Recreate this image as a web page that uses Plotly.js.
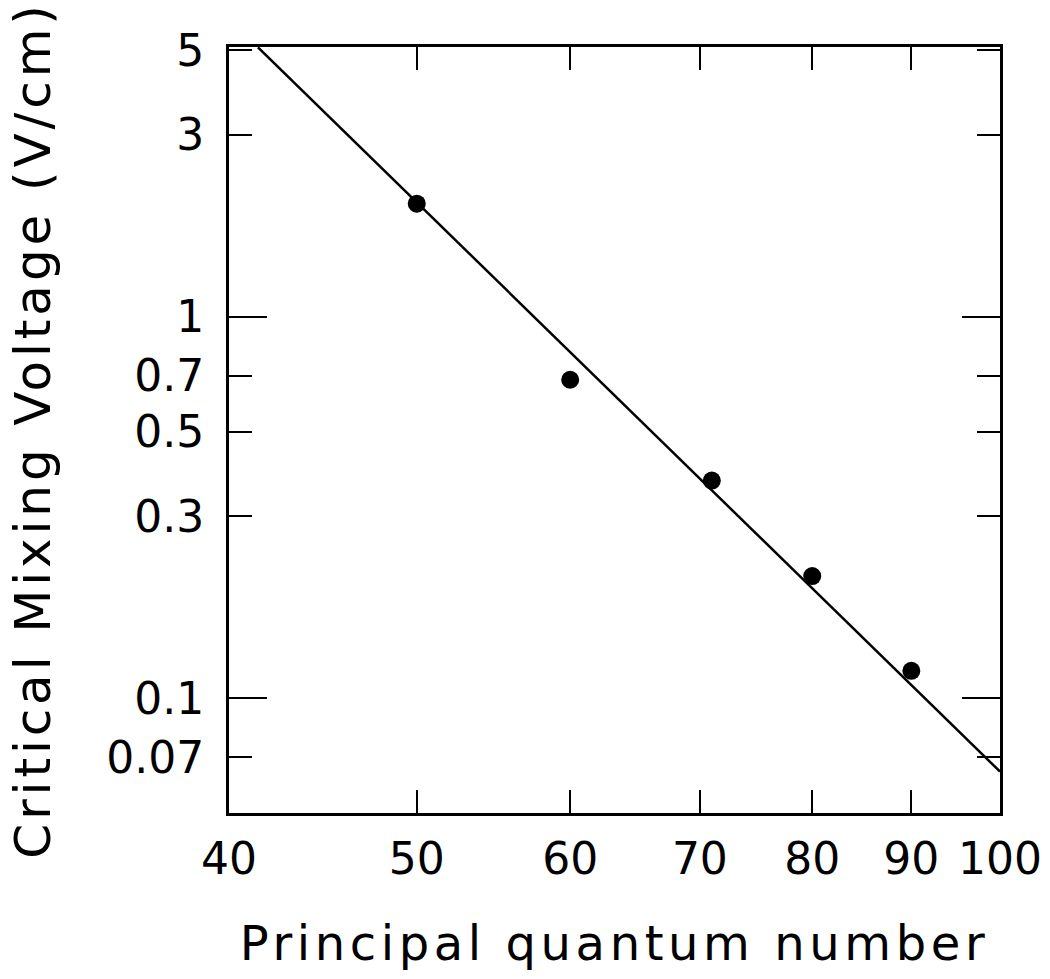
<!DOCTYPE html>
<html>
<head>
<meta charset="utf-8">
<script src="https://cdn.plot.ly/plotly-3.0.1.min.js"></script>
<style>
  html, body { margin: 0; padding: 0; background: #fff; }
  .xtitle { letter-spacing: 4.6px; }
  .ytitle { letter-spacing: 3.9px; }
</style>
</head>
<body>
<div id="chart" style="width:1050px;height:979px;"></div>
<script>
// Measured data points
const quantumN = [50, 60, 71, 80, 90];
const mixingVoltage = [1.98, 0.684, 0.372, 0.209, 0.118];

// Fitted line (endpoints)
const fitN = [41.4, 100];
const fitV = [5.09, 0.0642];

// Axis ticks
const xTickVals = [40, 50, 60, 70, 80, 90, 100];
const xTickText = ['40', '50', '60', '70', '80', '90', '100'];
const yTickVals = [5, 3, 1, 0.7, 0.5, 0.3, 0.1, 0.07];
const yTickText = ['5', '3', '1', '0.7', '0.5', '0.3', '0.1', '0.07'];
const yMajorVals = [1, 0.1];

const yRange = [Math.log10(0.05), Math.log10(5.1)];
const xRange = [Math.log10(40), Math.log10(100)];

const traces = [
  {
    x: fitN, y: fitV, type: 'scatter', mode: 'lines',
    xaxis: 'x', yaxis: 'y2',
    line: { color: '#000', width: 2.5 },
    hoverinfo: 'skip'
  },
  {
    x: quantumN, y: mixingVoltage, type: 'scatter', mode: 'markers',
    xaxis: 'x', yaxis: 'y',
    marker: { color: '#000', size: 18 }
  }
];

const tickFont = { family: 'DejaVu Sans', size: 44, color: '#000' };

const layout = {
  width: 1050, height: 979,
  margin: { l: 229, r: 50, t: 47, b: 166 },
  paper_bgcolor: '#fff', plot_bgcolor: '#fff',
  showlegend: false,
  xaxis: {
    type: 'log', range: xRange,
    tickmode: 'array', tickvals: xTickVals, ticktext: xTickText,
    ticks: 'inside', ticklen: 23, tickwidth: 2, tickcolor: '#000',
    showline: true, linewidth: 3, linecolor: '#000', mirror: 'ticks',
    showgrid: false, zeroline: false,
    tickfont: tickFont, ticklabelstandoff: 5,
    title: { text: 'Principal quantum number', font: { family: 'DejaVu Sans', size: 48, color: '#000' }, standoff: 44 }
  },
  yaxis: {
    type: 'log', range: yRange,
    tickmode: 'array', tickvals: yTickVals, ticktext: yTickText,
    ticks: 'inside', ticklen: 23, tickwidth: 2, tickcolor: '#000',
    showline: true, linewidth: 3, linecolor: '#000', mirror: 'ticks',
    showgrid: false, zeroline: false,
    tickfont: tickFont, ticklabelstandoff: 13,
    title: { text: 'Critical Mixing Voltage (V/cm)', font: { family: 'DejaVu Sans', size: 50, color: '#000' }, standoff: 40 }
  },
  yaxis2: {
    type: 'log', range: yRange, overlaying: 'y', side: 'left',
    tickmode: 'array', tickvals: yMajorVals,
    ticks: 'inside', ticklen: 38, tickwidth: 2, tickcolor: '#000',
    showline: false, mirror: 'ticks',
    showgrid: false, zeroline: false, showticklabels: false
  }
};

Plotly.newPlot('chart', traces, layout, { displayModeBar: false, staticPlot: true });
</script>
</body>
</html>
